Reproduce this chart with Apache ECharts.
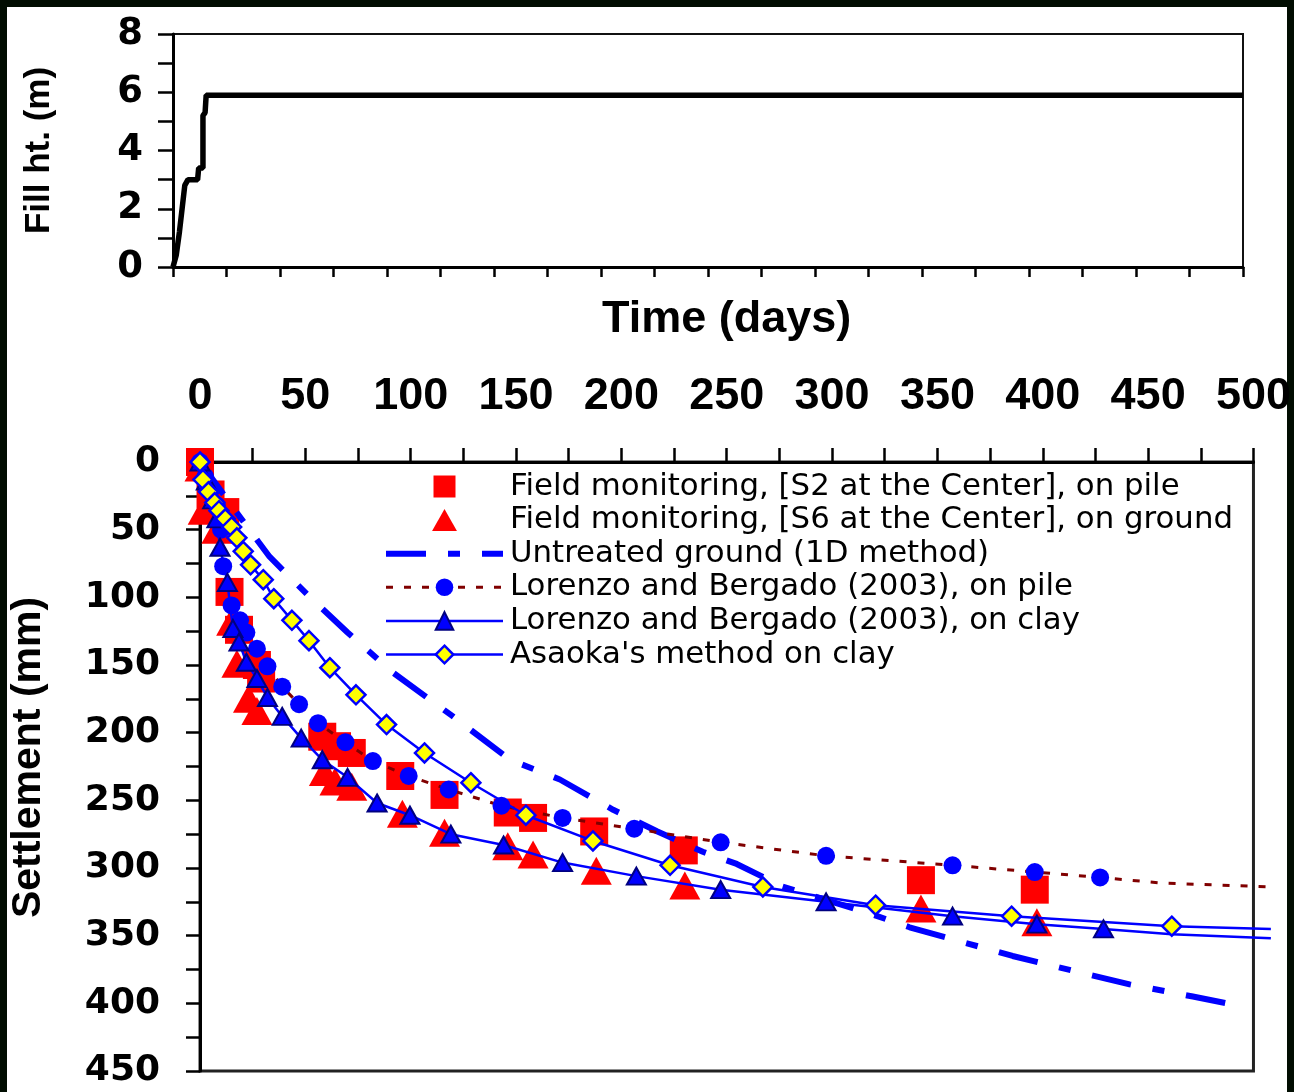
<!DOCTYPE html>
<html>
<head>
<meta charset="utf-8">
<script src="https://cdn.jsdelivr.net/npm/echarts@6/dist/echarts.min.js"></script>
<style>
  html, body { margin: 0; padding: 0; background: #010d01; }
  #frame { position: absolute; left: 7px; top: 7px; width: 1280px; height: 1085px; background: #fff; }
  #chart { position: absolute; left: 0; top: 0; width: 1294px; height: 1092px; }
</style>
</head>
<body>
<div id="frame"></div>
<div id="chart"></div>
<script>
// fill placement history (top panel)
const fillDays   = [0, 1.5, 3, 5.5, 7, 11.5, 12, 14, 14, 15, 15.5, 500]
const fillHeight = [0, 0.4, 1.2, 2.8, 3.0, 3.0, 3.4, 3.4, 5.2, 5.3, 5.9, 5.9]

// field monitoring S2 (on pile)
const s2Days   = [0, 5, 12, 14, 18.5, 27, 29, 58, 65, 72, 95, 116, 146, 158, 187, 229.5, 342, 396]
const s2Settle = [0, 24, 37, 96, 124, 150, 160, 203, 210, 215, 232, 246, 259, 263, 273, 287, 309, 316]

// field monitoring S6 (on ground)
const s6Days   = [0, 1.5, 8, 15, 17.5, 23, 27, 59, 64, 72, 96, 116, 146, 158, 188, 230, 342, 397]
const s6Settle = [4, 36, 50, 118, 149, 175, 184, 229, 236, 240, 260, 274, 284, 290, 302, 313, 330, 340]

// untreated ground, 1D method
const untreatedDays   = [0, 17.5, 33, 52, 70, 91.5, 120, 147, 170.7, 196, 217, 238.5, 254.6, 276, 316, 336.6, 385.5, 417, 441, 471, 496.4]
const untreatedSettle = [0, 37.6, 70, 99.6, 126, 155.6, 188, 220, 234.6, 257, 273, 288, 297, 313.5, 332.7, 343.8, 365, 377, 386, 395, 402.8]

// Lorenzo and Bergado (2003), on pile
const pileDays   = [0, 2.5, 5, 8, 10, 11, 15, 19, 22, 27, 32, 39, 47, 56, 69, 82, 99, 118, 143, 172, 206, 247, 297, 357, 396, 427]
const pileSettle = [0, 11, 21, 32, 50, 77, 106, 117, 126, 138, 151, 166, 179, 193, 207, 221, 232, 242, 254, 263, 271, 281, 291, 298, 303, 307]
const pileTailDays   = [455, 508]
const pileTailSettle = [311, 314]

// Lorenzo and Bergado (2003), on clay
const clayDays   = [0, 3, 6, 8, 9.5, 13, 15.6, 18.5, 22, 27, 32, 39, 48, 58, 70, 84, 99.6, 119, 144, 172, 207, 247, 297, 357, 397, 428.6]
const claySettle = [0, 14, 28, 42, 63, 89, 123, 133, 148, 160, 174, 188, 204, 220, 233, 252, 261, 275, 283, 296, 306, 316, 325, 335.6, 341.5, 345]
const clayTailDays   = [461, 508]
const clayTailSettle = [349, 352]

// Asaoka's method on clay
const asaokaDays   = [0, 1.4, 4, 7, 9, 12, 15, 17.5, 20.5, 24, 30, 35, 43.6, 51.7, 61.6, 74, 88.5, 106.5, 128.5, 154.6, 186.4, 223, 267, 320.5, 385, 461]
const asaokaSettle = [0, 13, 22, 30, 36, 42, 48, 56, 66, 76, 87, 101, 117, 132, 152, 172, 194, 215, 237, 261, 280, 298, 314, 327.5, 335.6, 343]
const asaokaTailDays   = [508]
const asaokaTailSettle = [345]

const names = [
  'Field monitoring, [S2 at the Center], on pile',
  'Field monitoring, [S6 at the Center], on ground',
  'Untreated ground (1D method)',
  'Lorenzo and Bergado (2003), on pile',
  'Lorenzo and Bergado (2003), on clay',
  "Asaoka's method on clay"
]

const zip = (xs, ys) => xs.map((x, i) => [x, ys[i]])
const withTail = (xs, ys, tx, ty) =>
  zip(xs, ys).concat(zip(tx, ty).map(v => ({ value: v, symbol: 'none' })))

const chart = echarts.init(document.getElementById('chart'))

const axisLine = { show: true, lineStyle: { color: '#000', width: 3 } }
const tick = len => ({ show: true, inside: false, length: len, lineStyle: { color: '#000', width: 2.5 } })
const minor = len => ({ show: true, splitNumber: 2, length: len, lineStyle: { color: '#000', width: 2.5 } })

// settlement panel: 1054 px for 500 days; the curves run a little past the frame,
// so they sit on a hidden twin axis that spans 510 days (1075 px) on the same scale
const PLOT_L = 200, PLOT_T = 462, PLOT_H = 609
const PX_PER_DAY = 1054 / 500
const EXT_MAX = 510

// legend icons for the field points (path icons keep their aspect, built-in ones stretch)
const squareIcon = 'path://M0,0L1,0L1,1L0,1Z'
const triangleIcon = 'path://M13,0L26,23L0,23Z'

chart.setOption({
  animation: false,
  backgroundColor: 'transparent',
  grid: [
    { left: 173, top: 34, width: 1070, height: 233, show: true, borderColor: '#111', borderWidth: 2 },
    { left: PLOT_L, top: PLOT_T, width: 1054, height: PLOT_H, show: true, borderColor: '#222', borderWidth: 3 },
    { left: PLOT_L, top: PLOT_T, width: EXT_MAX * PX_PER_DAY, height: PLOT_H, show: false }
  ],
  xAxis: [
    {
      gridIndex: 0, type: 'value', min: 0, max: 500, interval: 25,
      axisLine, axisTick: tick(10), axisLabel: { show: false }, splitLine: { show: false }
    },
    {
      gridIndex: 1, type: 'value', position: 'top', min: 0, max: 500, interval: 50,
      name: 'Time (days)', nameLocation: 'middle', nameGap: 120,
      nameTextStyle: { fontFamily: 'Liberation Sans', fontWeight: 'bold', fontSize: 45, color: '#000' },
      axisLine, axisTick: tick(14), minorTick: minor(14),
      axisLabel: { margin: 43, fontFamily: 'Liberation Sans', fontWeight: 'bold', fontSize: 45, color: '#000' },
      splitLine: { show: false }, minorSplitLine: { show: false }
    },
    { gridIndex: 2, type: 'value', min: 0, max: EXT_MAX, show: false, splitLine: { show: false } }
  ],
  yAxis: [
    {
      gridIndex: 0, type: 'value', min: 0, max: 8, interval: 2,
      name: 'Fill ht. (m)', nameLocation: 'middle', nameGap: 116,
      nameTextStyle: { fontFamily: 'Liberation Sans', fontWeight: 'bold', fontSize: 35, color: '#000' },
      axisLine, axisTick: tick(15), minorTick: minor(15),
      axisLabel: { margin: 30, fontFamily: 'DejaVu Sans', fontWeight: 'bold', fontSize: 37, color: '#000' },
      splitLine: { show: false }, minorSplitLine: { show: false }
    },
    {
      gridIndex: 1, type: 'value', inverse: true, min: 0, max: 450, interval: 50,
      name: 'Settlement (mm)', nameLocation: 'middle', nameGap: 151,
      nameTextStyle: { fontFamily: 'Liberation Sans', fontWeight: 'bold', fontSize: 41, color: '#000', padding: [0, 0, 0, 18] },
      axisLine, axisTick: tick(14), minorTick: minor(14),
      axisLabel: { margin: 40, fontFamily: 'DejaVu Sans', fontWeight: 'bold', fontSize: 36, color: '#000' },
      splitLine: { show: false }, minorSplitLine: { show: false }
    },
    { gridIndex: 2, type: 'value', inverse: true, min: 0, max: 450, show: false, splitLine: { show: false } }
  ],
  legend: {
    orient: 'vertical', left: 383, top: 471, padding: 0,
    itemWidth: 117, itemHeight: 22, itemGap: 2.6, symbolKeepAspect: true,
    textStyle: { fontFamily: 'DejaVu Sans', fontSize: 30.8, lineHeight: 30, color: '#000', padding: [0, 0, 0, 2] },
    data: [
      { name: names[0], icon: squareIcon },
      { name: names[1], icon: triangleIcon },
      { name: names[2], itemStyle: { color: 'rgba(0,0,0,0)', borderWidth: 0 },
        lineStyle: { color: '#0000ff', width: 6, type: [40, 22, 12, 22] } },
      { name: names[3], lineStyle: { color: '#800000', width: 3, type: [7, 11] } },
      { name: names[4], itemStyle: { borderColor: '#000080', borderWidth: 2 },
        lineStyle: { color: '#0000ff', width: 2.5 } },
      { name: names[5], itemStyle: { borderColor: '#0000ff', borderWidth: 2.5 },
        lineStyle: { color: '#0000ff', width: 2.5 } }
    ]
  },
  series: [
    {
      name: 'fill', type: 'line', xAxisIndex: 0, yAxisIndex: 0,
      data: zip(fillDays, fillHeight), symbol: 'none',
      lineStyle: { color: '#000', width: 5.5 }
    },
    {
      name: names[0], type: 'scatter', xAxisIndex: 2, yAxisIndex: 2, clip: false,
      data: zip(s2Days, s2Settle), symbol: 'rect', symbolSize: 28,
      itemStyle: { color: '#ff0000', opacity: 1 }
    },
    {
      name: names[1], type: 'scatter', xAxisIndex: 2, yAxisIndex: 2, clip: false,
      data: zip(s6Days, s6Settle), symbol: 'triangle', symbolSize: [31, 28],
      itemStyle: { color: '#ff0000', opacity: 1 }
    },
    {
      name: names[2], type: 'line', xAxisIndex: 2, yAxisIndex: 2, clip: false,
      data: zip(untreatedDays, untreatedSettle), symbol: 'none',
      itemStyle: { color: '#0000ff' },
      lineStyle: { color: '#0000ff', width: 6, type: [40, 22, 12, 22] }
    },
    {
      name: names[3], type: 'line', xAxisIndex: 2, yAxisIndex: 2, clip: false,
      data: withTail(pileDays, pileSettle, pileTailDays, pileTailSettle),
      symbol: 'circle', symbolSize: 18,
      itemStyle: { color: '#0000ff' },
      lineStyle: { color: '#800000', width: 3, type: [7, 11] }
    },
    {
      name: names[4], type: 'line', xAxisIndex: 2, yAxisIndex: 2, clip: false,
      data: withTail(clayDays, claySettle, clayTailDays, clayTailSettle),
      symbol: 'triangle', symbolSize: [19, 17],
      itemStyle: { color: '#0000ff', borderColor: '#000080', borderWidth: 2 },
      lineStyle: { color: '#0000ff', width: 2.5 }
    },
    {
      name: names[5], type: 'line', xAxisIndex: 2, yAxisIndex: 2, clip: false,
      data: withTail(asaokaDays, asaokaSettle, asaokaTailDays, asaokaTailSettle),
      symbol: 'diamond', symbolSize: 19,
      itemStyle: { color: '#ffff00', borderColor: '#0000ff', borderWidth: 2.5 },
      lineStyle: { color: '#0000ff', width: 2.5 }
    }
  ]
})
</script>
</body>
</html>
